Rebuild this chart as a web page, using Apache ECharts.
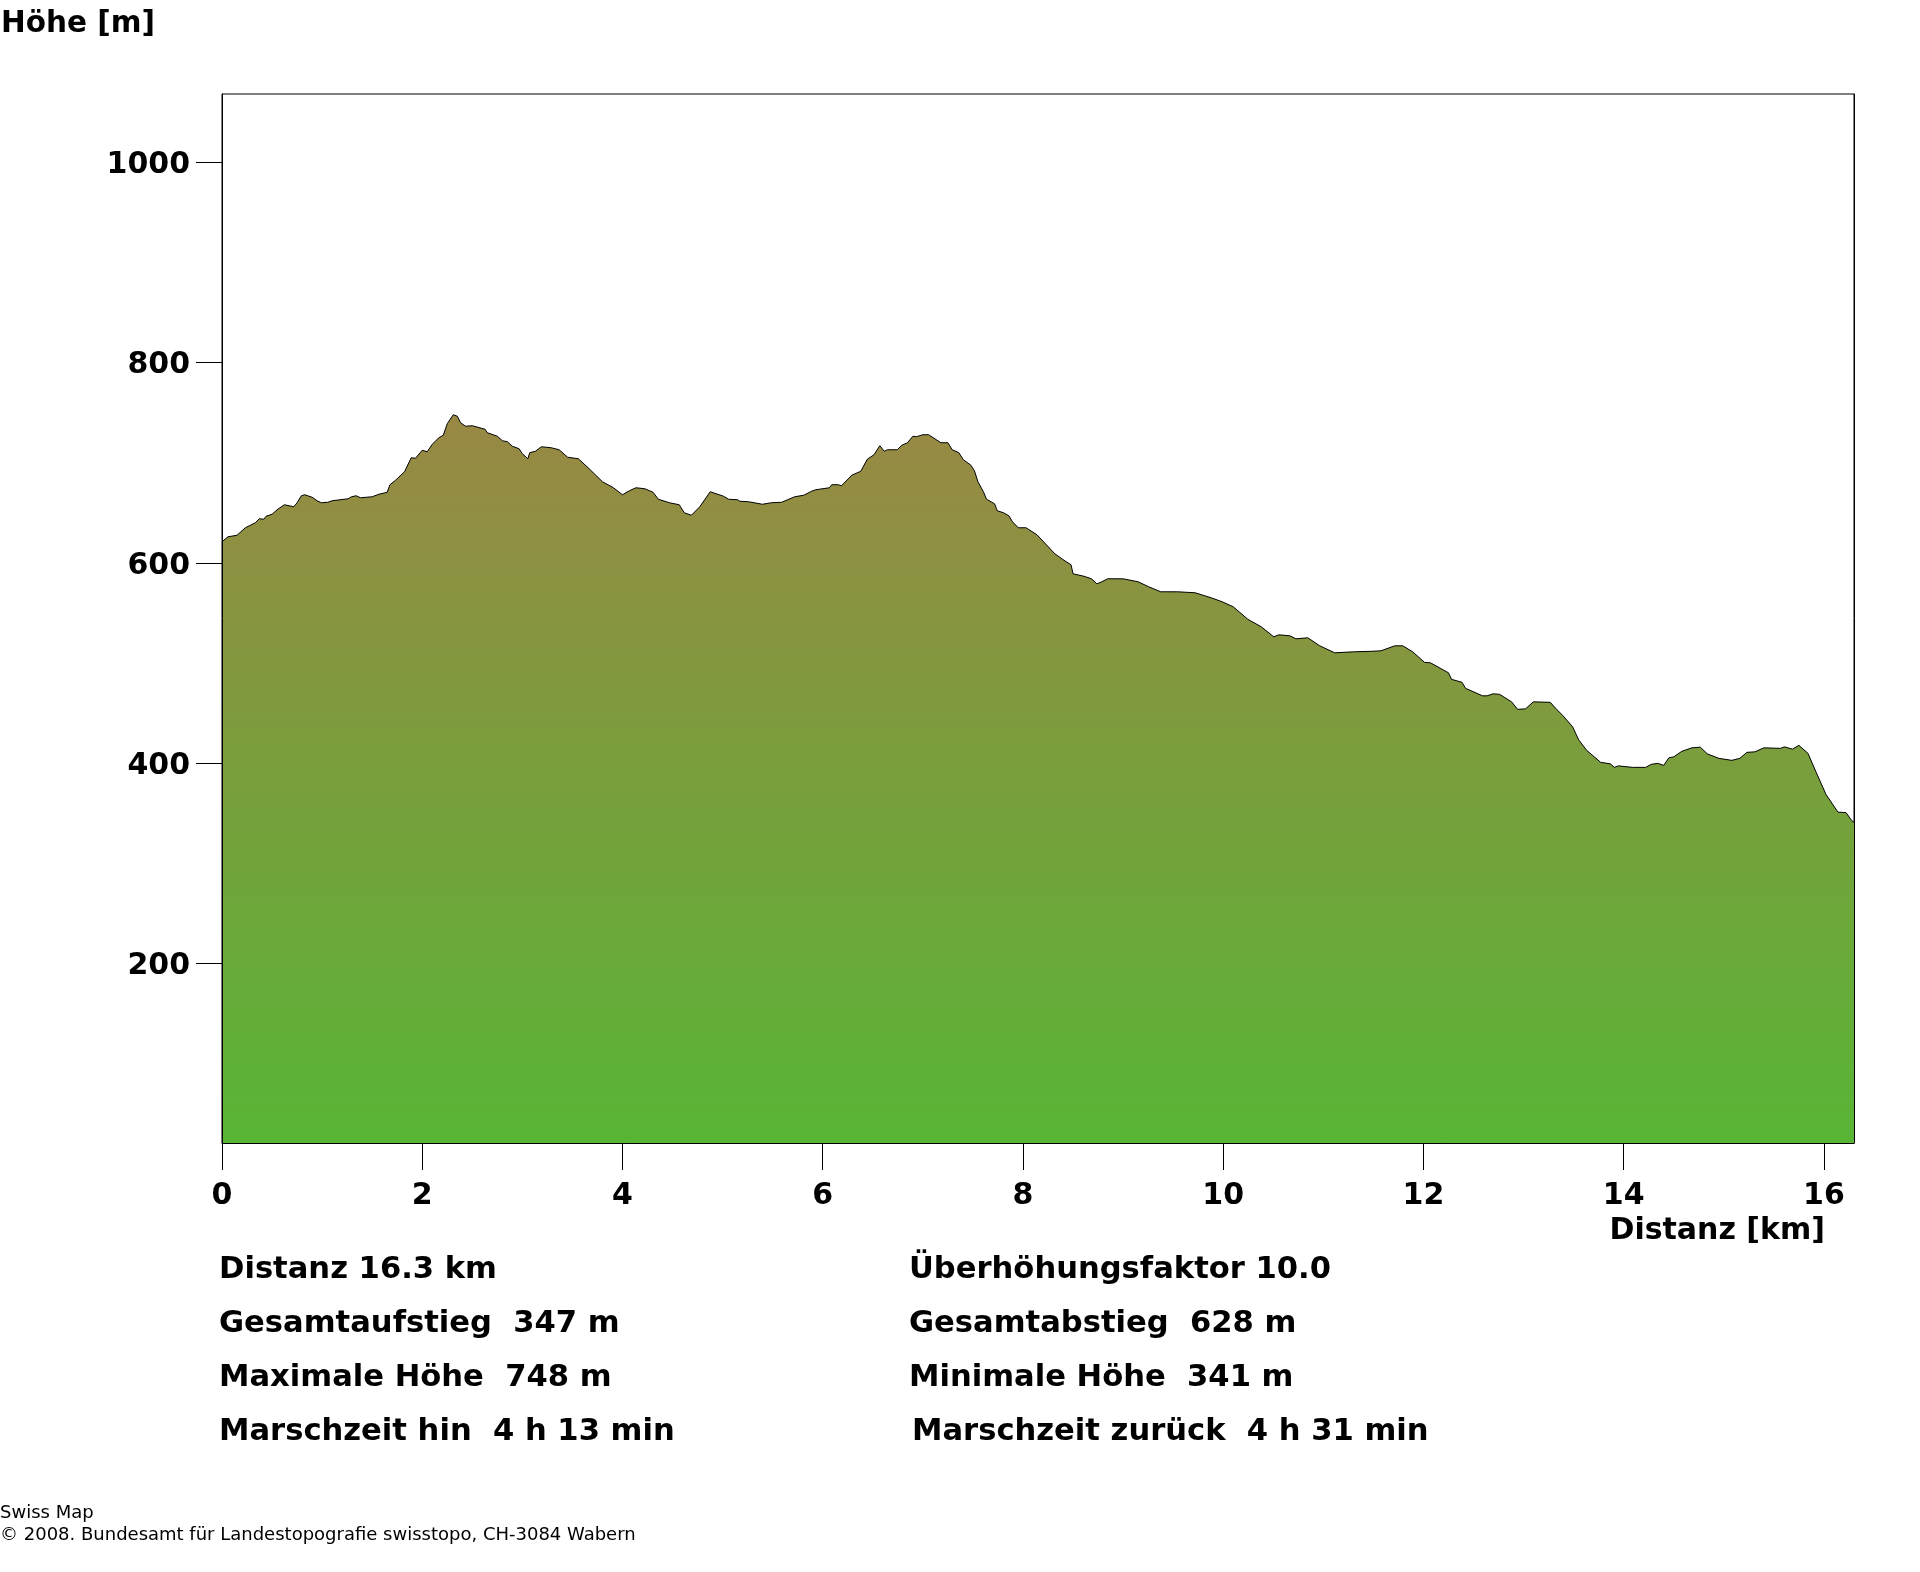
<!DOCTYPE html>
<html>
<head>
<meta charset="utf-8">
<style>
  html, body { margin: 0; padding: 0; background: #fff; }
  #chart { width: 1920px; height: 1572px; }
</style>
<script src="https://cdn.jsdelivr.net/npm/echarts@6/dist/echarts.min.js"></script>
</head>
<body>
<div id="chart"></div>
<script>
// Distanz in km
var distanz = [
  0, 0.06, 0.15, 0.233, 0.333, 0.373, 0.417, 0.44, 0.5, 0.55, 0.623, 0.717, 0.75, 0.793, 0.827, 0.9, 0.913, 0.95, 0.993,
  1.057, 1.1, 1.26, 1.293, 1.34, 1.383, 1.5, 1.567, 1.65, 1.677, 1.733, 1.823, 1.89, 1.933, 2.0, 2.05, 2.1, 2.167, 2.21,
  2.25, 2.31, 2.35, 2.383, 2.433, 2.5, 2.627, 2.65, 2.75, 2.8, 2.85, 2.9, 2.967, 3.0, 3.055, 3.073, 3.13, 3.19, 3.287,
  3.367, 3.452, 3.56, 3.667, 3.8, 3.91, 4.0, 4.068, 4.135, 4.224, 4.305, 4.358, 4.47, 4.567, 4.617, 4.688, 4.772, 4.876,
  5.01, 5.06, 5.15, 5.172, 5.26, 5.397, 5.487, 5.59, 5.72, 5.81, 5.888, 5.93, 6.067, 6.09, 6.156, 6.187, 6.29, 6.38,
  6.445, 6.512, 6.57, 6.615, 6.646, 6.744, 6.79, 6.847, 6.9, 6.936, 7.0, 7.057, 7.18, 7.25, 7.293, 7.36, 7.405, 7.48,
  7.515, 7.55, 7.605, 7.636, 7.716, 7.743, 7.806, 7.859, 7.895, 7.953, 8.03, 8.14, 8.318, 8.41, 8.48, 8.5, 8.61, 8.685,
  8.738, 8.787, 8.845, 9.0, 9.15, 9.256, 9.376, 9.545, 9.72, 9.88, 9.99, 10.1, 10.246, 10.38, 10.505, 10.557, 10.666,
  10.726, 10.845, 10.964, 11.114, 11.3, 11.477, 11.575, 11.714, 11.793, 11.892, 12.01, 12.07, 12.25, 12.28, 12.385,
  12.42, 12.59, 12.635, 12.695, 12.76, 12.88, 12.94, 13.02, 13.097, 13.267, 13.315, 13.39, 13.49, 13.55, 13.63, 13.77,
  13.867, 13.907, 13.946, 14.085, 14.22, 14.275, 14.34, 14.4, 14.45, 14.5, 14.58, 14.68, 14.765, 14.835, 14.95, 15.08,
  15.16, 15.23, 15.31, 15.4, 15.566, 15.605, 15.685, 15.75, 15.84, 15.92, 16.02, 16.14, 16.22, 16.28, 16.3
];
// Höhe in m, same order as distanz
var hoehe = [
  621, 626, 627.5, 635, 640, 644, 643.5, 646.5, 648.5, 653, 658, 656, 660, 667, 668, 665.5, 667, 662, 660,
  660.5, 662, 664, 666, 667, 665, 666, 668.5, 670.5, 678, 682.5, 691, 705, 704.5, 712.5, 711, 718.5, 725, 727.5,
  739, 748, 746.5, 740, 736.5, 737, 733.5, 730, 726.5, 722, 721, 716.5, 714, 709, 704, 710, 711.5, 716, 715,
  713, 705.5, 704, 694, 681, 675, 668, 672, 675, 674, 670.5, 663.5, 660, 658, 650, 647.5, 656, 671,
  666.5, 663.5, 663, 661.5, 661, 658.5, 660, 660.5, 666, 667.5, 671.5, 673, 675, 678, 678, 677, 687.5, 691.5,
  703.5, 708, 717, 711.5, 713, 713, 717.5, 720, 726.5, 726, 728, 728, 720, 720, 713, 710, 703, 697.5,
  692, 681, 671, 663.5, 659, 652, 650, 647, 641, 635, 635, 628, 609, 602.5, 598, 589, 586.5, 584,
  579, 581, 584, 584, 581, 576, 571, 571, 570, 565, 561, 556, 543.5, 536, 526, 528, 527,
  524, 525, 517, 510, 511, 511.5, 512, 517, 517, 511, 500.5, 500, 490, 483.5, 480.5,
  474.5, 467, 467, 469, 468.5, 461, 453.5, 454, 461, 460.5, 455, 447.5, 436, 423, 412.5, 400.5,
  399, 395.5, 397, 395.5, 395.5, 398.5, 399.5, 397.5, 405, 406, 411.5, 415, 415.7, 409, 404.5, 402.5,
  404.5, 410.5, 411, 415, 414.5, 416, 413.7, 417.5, 409.5, 391, 368.5, 350.7, 350.3, 342, 340.5
];
var xTicks = [0, 2, 4, 6, 8, 10, 12, 14, 16];
var yTicks = [200, 400, 600, 800, 1000];
var infoLinks = ['Distanz 16.3 km', 'Gesamtaufstieg  347 m', 'Maximale Höhe  748 m', 'Marschzeit hin  4 h 13 min'];
var infoRechts = ['Überhöhungsfaktor 10.0', 'Gesamtabstieg  628 m', 'Minimale Höhe  341 m', 'Marschzeit zurück  4 h 31 min'];
var credits = ['Swiss Map', '© 2008. Bundesamt für Landestopografie swisstopo, CH-3084 Wabern'];

var boldFont = 'bold 30px "DejaVu Sans"';
var infoFont = 'bold 30.6px "DejaVu Sans"';
var smallFont = '18px "DejaVu Sans"';
var chart = echarts.init(document.getElementById('chart'), null, { renderer: 'canvas' });

function label(text, x, y, font, align) {
  return {
    type: 'text',
    x: x,
    y: y,
    silent: true,
    style: { text: text, font: font, fill: '#000', textAlign: align || 'left', textVerticalAlign: 'bottom' }
  };
}

var texts = [
  label('Höhe [m]', 1, 39, 'bold 29.5px "DejaVu Sans"'),
  label('Distanz [km]', 1825, 1246, boldFont, 'right'),
  label(credits[0], 0, 1522, smallFont),
  label(credits[1], 0, 1544, smallFont)
];
var lineY = [1286, 1340, 1394, 1448];
infoLinks.forEach(function (t, i) { texts.push(label(t, 219, lineY[i], infoFont)); });
infoRechts.forEach(function (t, i) { texts.push(label(t, i == 3 ? 912 : 909, lineY[i], infoFont)); });

function plain(v) { return String(v); }

var axisLine = { show: true, lineStyle: { color: '#000', width: 1 } };
var option = {
  animation: false,
  backgroundColor: '#fff',
  grid: { left: 222, top: 94, right: 66, bottom: 429, show: true, borderColor: '#000', borderWidth: 1, backgroundColor: 'transparent' },
  xAxis: {
    type: 'value', min: 0, max: 16.3, z: 5,
    axisLine: axisLine,
    splitLine: { show: false },
    axisTick: { length: 27, customValues: xTicks, lineStyle: { color: '#000', width: 1 } },
    axisLabel: { customValues: xTicks, formatter: plain, margin: 38, color: '#000', fontFamily: 'DejaVu Sans', fontWeight: 'bold', fontSize: 30 }
  },
  yAxis: [{
    type: 'value', min: 20, max: 1068.6, z: 5,
    axisLine: axisLine,
    splitLine: { show: false },
    axisTick: { length: 26, customValues: yTicks, lineStyle: { color: '#000', width: 1 } },
    // lineHeight with top alignment drops the digits a little below the tick
    axisLabel: { customValues: yTicks, formatter: plain, margin: 32, verticalAlign: 'top', lineHeight: 6, color: '#000', fontFamily: 'DejaVu Sans', fontWeight: 'bold', fontSize: 30 }
  }, {
    // right edge of the frame, drawn over the fill
    type: 'value', position: 'right', min: 20, max: 1068.6, z: 5,
    axisLine: axisLine,
    splitLine: { show: false },
    axisTick: { show: false },
    axisLabel: { show: false }
  }],
  series: [{
    type: 'line',
    showSymbol: false,
    sampling: 'none',
    smooth: false,
    data: distanz.map(function (d, i) { return [d, hoehe[i]]; }),
    lineStyle: { color: '#000', width: 1 },
    areaStyle: {
      origin: 'start',
      opacity: 1,
      color: new echarts.graphic.LinearGradient(0, 0, 0, 1, [
        { offset: 0, color: '#998844' },
        { offset: 1, color: '#58b535' }
      ])
    }
  }],
  graphic: texts
};
chart.setOption(option);
</script>
</body>
</html>
